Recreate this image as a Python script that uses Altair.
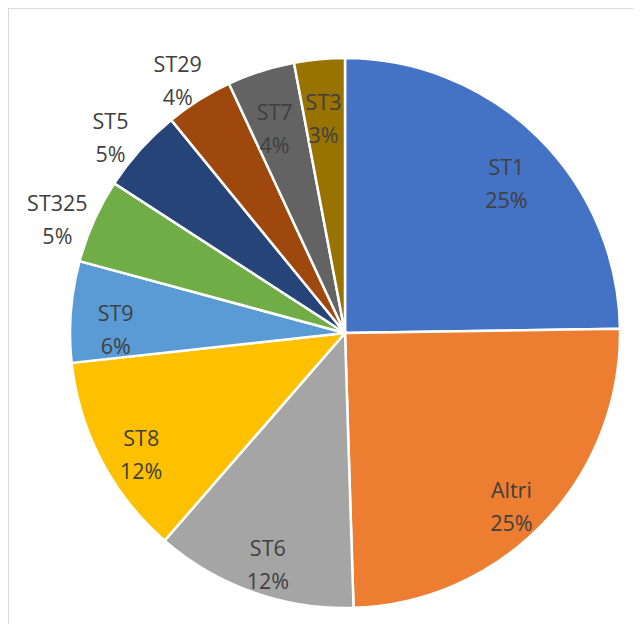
import altair as alt
import pandas as pd

categories = ["ST1", "Altri", "ST6", "ST8", "ST9", "ST325", "ST5", "ST29", "ST7", "ST3"]
percent = [25, 25, 12, 12, 6, 5, 5, 4, 4, 3]
colors = ["#4472C4", "#ED7D31", "#A5A5A5", "#FFC000", "#5B9BD5",
          "#70AD47", "#264478", "#9E480E", "#636363", "#997300"]
outside = ["ST325", "ST5", "ST29"]

df = pd.DataFrame({
    "cat": categories,
    "pct": percent,
    "ord": list(range(len(categories))),
    "label": [f"{c}\n{p}%" for c, p in zip(categories, percent)],
})

PAD = 2
cx, cy = 345 - 8 - PAD, 333 - 8 - PAD
R = 275
r_in, r_out = 230, 315
outside_expr = "indexof(" + str(outside).replace("'", '"') + ", datum.cat) >= 0"

base = alt.Chart(df).transform_window(
    cum="sum(pct)", sort=[alt.SortField("ord")], frame=[None, 0]
).transform_joinaggregate(
    total="sum(pct)"
).transform_calculate(
    t0="(datum.cum - datum.pct) / datum.total * 2 * PI",
    t1="datum.cum / datum.total * 2 * PI",
).transform_calculate(
    tm="(datum.t0 + datum.t1) / 2",
    lr=f"{outside_expr} ? {r_out} : {r_in}",
)

pie = base.mark_arc(outerRadius=R, stroke="white", strokeWidth=2.5).encode(
    theta=alt.Theta("t0:Q", scale=None),
    theta2="t1:Q",
    x=alt.value(cx),
    y=alt.value(cy),
    color=alt.Color("cat:N", scale=alt.Scale(domain=categories, range=colors), legend=None),
)

text = base.mark_text(lineBreak="\n", font="Open Sans", fontSize=21.5, lineHeight=33,
                      color="#404040", baseline="middle", align="center").encode(
    theta=alt.Theta("tm:Q", scale=None),
    radius=alt.Radius("lr:Q", scale=None),
    x=alt.value(cx),
    y=alt.value(cy),
    text="label:N",
)

top_border = alt.Chart(df).mark_rule(color="#d9d9d9", strokeWidth=1).encode(
    x=alt.value(-2), x2=alt.value(640), y=alt.value(-1.5))
left_border = alt.Chart(df).mark_rule(color="#d9d9d9", strokeWidth=1).encode(
    x=alt.value(-1.5), y=alt.value(-2), y2=alt.value(640))

chart = alt.layer(top_border, left_border, pie, text).properties(
    width=641 - 16 - 2 * PAD, height=632 - 16 - 2 * PAD,
    autosize=alt.AutoSizeParams(type="none"),
    padding=PAD,
).configure_view(stroke=None)

chart.save("out.html", embed_options={"renderer": "svg", "actions": False})
